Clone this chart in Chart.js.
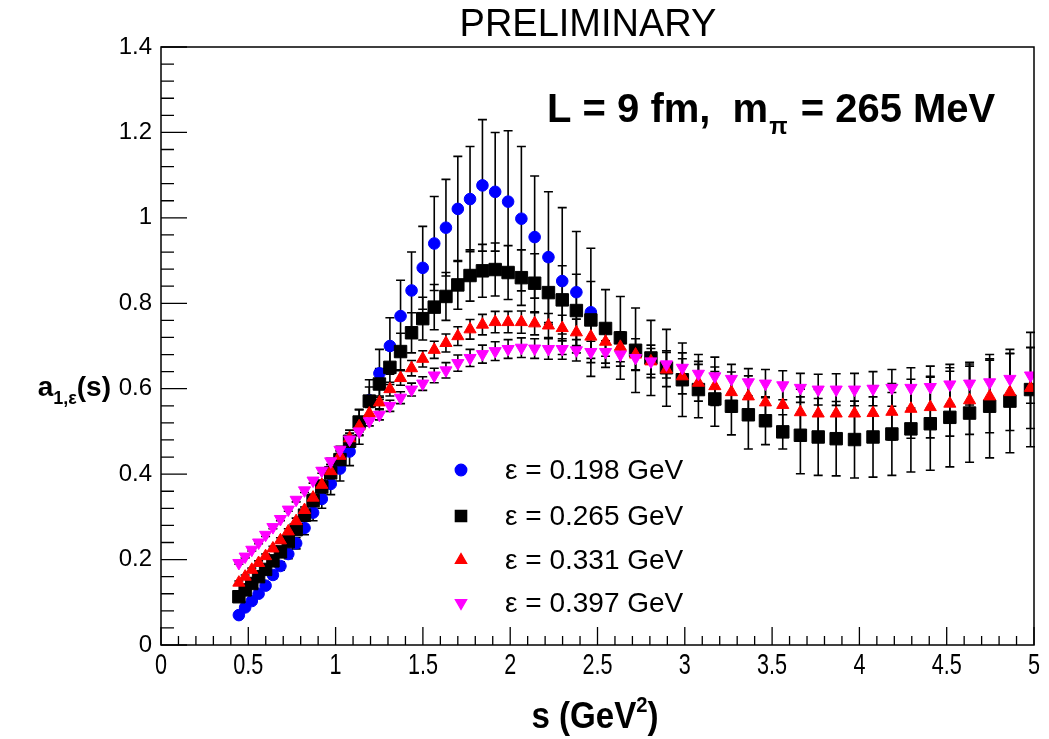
<!DOCTYPE html>
<html>
<head>
<meta charset="utf-8">
<script src="https://cdn.jsdelivr.net/npm/chart.js@4.4.1/dist/chart.umd.min.js"></script>
<style>
  html, body { margin: 0; padding: 0; background: #fff; }
  #wrap { width: 1049px; height: 739px; }
</style>
</head>
<body>
<div id="wrap"><canvas id="grafico" width="1049" height="739"></canvas></div>
<script>
// pontos em s (GeV^2), comuns a todas as séries
const valoresS = [
  0.446, 0.482, 0.520, 0.559, 0.599, 0.641, 0.684, 0.729, 0.774, 0.822,
  0.871, 0.921, 0.972, 1.025, 1.080, 1.135, 1.193, 1.251, 1.311, 1.372,
  1.435, 1.499, 1.565, 1.632, 1.700, 1.770, 1.841, 1.914, 1.988, 2.064,
  2.140, 2.219, 2.298, 2.379, 2.462, 2.546, 2.631, 2.718, 2.806, 2.895,
  2.986, 3.078, 3.172, 3.267, 3.364, 3.462, 3.561, 3.662, 3.764, 3.867,
  3.972, 4.078, 4.186, 4.295, 4.406, 4.518, 4.631, 4.746, 4.862, 4.980
];

// eps = 0.198 GeV (só até s ~ 2.46)
const a198 = [
  0.070, 0.088, 0.103, 0.120, 0.139, 0.164, 0.185, 0.213, 0.238, 0.274,
  0.310, 0.342, 0.377, 0.413, 0.453, 0.510, 0.573, 0.636, 0.700, 0.770,
  0.830, 0.883, 0.940, 0.977, 1.021, 1.044, 1.076, 1.061, 1.038, 0.998,
  0.955, 0.908, 0.852, 0.826, 0.779
];
const erro198 = [
  0.006, 0.006, 0.007, 0.007, 0.008, 0.009, 0.010, 0.011, 0.013, 0.016,
  0.019, 0.022, 0.025, 0.029, 0.033, 0.040, 0.048, 0.056, 0.066, 0.084,
  0.090, 0.097, 0.110, 0.113, 0.123, 0.123, 0.154, 0.139, 0.166, 0.169,
  0.143, 0.153, 0.172, 0.142, 0.150
];

// eps = 0.265 GeV
const a265 = [
  0.113, 0.129, 0.144, 0.160, 0.177, 0.197, 0.218, 0.242, 0.270, 0.304,
  0.338, 0.370, 0.403, 0.434, 0.477, 0.522, 0.571, 0.611, 0.650, 0.687,
  0.731, 0.764, 0.791, 0.816, 0.843, 0.865, 0.876, 0.879, 0.872, 0.860,
  0.847, 0.825, 0.808, 0.783, 0.761, 0.741, 0.719, 0.690, 0.672, 0.649,
  0.621, 0.598, 0.576, 0.559, 0.539, 0.525, 0.499, 0.491, 0.487, 0.483,
  0.481, 0.487, 0.494, 0.506, 0.518, 0.533, 0.543, 0.559, 0.571, 0.598
];
const erro265 = [
  0.005, 0.005, 0.006, 0.006, 0.007, 0.007, 0.008, 0.009, 0.010, 0.012,
  0.014, 0.016, 0.019, 0.022, 0.026, 0.030, 0.033, 0.036, 0.040, 0.043,
  0.047, 0.050, 0.053, 0.056, 0.057, 0.060, 0.062, 0.062, 0.063, 0.065,
  0.069, 0.074, 0.080, 0.085, 0.090, 0.091, 0.097, 0.099, 0.088, 0.090,
  0.086, 0.066, 0.064, 0.067, 0.080, 0.056, 0.040, 0.090, 0.090, 0.087,
  0.090, 0.094, 0.097, 0.101, 0.109, 0.116, 0.115, 0.121, 0.121, 0.134
];

// eps = 0.331 GeV
const a331 = [
  0.146, 0.160, 0.176, 0.192, 0.208, 0.226, 0.245, 0.266, 0.290, 0.316,
  0.345, 0.375, 0.407, 0.443, 0.484, 0.512, 0.542, 0.568, 0.599, 0.625,
  0.648, 0.670, 0.691, 0.707, 0.723, 0.739, 0.750, 0.756, 0.756, 0.756,
  0.753, 0.748, 0.742, 0.732, 0.722, 0.710, 0.698, 0.680, 0.664, 0.645,
  0.629, 0.614, 0.606, 0.592, 0.582, 0.568, 0.562, 0.545, 0.542, 0.542,
  0.542, 0.543, 0.546, 0.553, 0.557, 0.565, 0.573, 0.582, 0.592, 0.602
];
const erro331 = [
  0.004, 0.004, 0.004, 0.005, 0.005, 0.005, 0.006, 0.006, 0.007, 0.007,
  0.008, 0.009, 0.010, 0.011, 0.012, 0.013, 0.014, 0.015, 0.016, 0.017,
  0.018, 0.019, 0.020, 0.021, 0.022, 0.023, 0.024, 0.025, 0.025, 0.026,
  0.027, 0.028, 0.030, 0.031, 0.032, 0.034, 0.035, 0.037, 0.038, 0.040,
  0.041, 0.043, 0.045, 0.047, 0.048, 0.050, 0.052, 0.054, 0.056, 0.058,
  0.060, 0.063, 0.066, 0.069, 0.072, 0.076, 0.080, 0.085, 0.090, 0.095
];

// eps = 0.397 GeV
const a397 = [
  0.192, 0.207, 0.223, 0.240, 0.258, 0.276, 0.295, 0.317, 0.340, 0.362,
  0.385, 0.408, 0.430, 0.457, 0.481, 0.500, 0.524, 0.539, 0.560, 0.579,
  0.598, 0.612, 0.631, 0.643, 0.660, 0.672, 0.681, 0.688, 0.693, 0.696,
  0.694, 0.693, 0.693, 0.690, 0.686, 0.686, 0.680, 0.672, 0.664, 0.657,
  0.649, 0.635, 0.629, 0.623, 0.615, 0.612, 0.608, 0.602, 0.598, 0.598,
  0.598, 0.600, 0.602, 0.602, 0.604, 0.610, 0.612, 0.615, 0.623, 0.631
];
const erro397 = [
  0.003, 0.003, 0.003, 0.003, 0.004, 0.004, 0.004, 0.004, 0.005, 0.005,
  0.006, 0.006, 0.007, 0.008, 0.009, 0.010, 0.011, 0.012, 0.013, 0.014,
  0.015, 0.016, 0.017, 0.018, 0.019, 0.020, 0.021, 0.022, 0.022, 0.023,
  0.023, 0.024, 0.024, 0.025, 0.025, 0.026, 0.027, 0.028, 0.030, 0.032,
  0.035, 0.045, 0.045, 0.034, 0.032, 0.033, 0.034, 0.034, 0.036, 0.037,
  0.038, 0.040, 0.043, 0.047, 0.049, 0.047, 0.050, 0.055, 0.060, 0.065
];

const rotulosLegenda = ['\u03b5 = 0.198 GeV', '\u03b5 = 0.265 GeV', '\u03b5 = 0.331 GeV', '\u03b5 = 0.397 GeV'];

const FONTE = '"Liberation Sans", Arial, Helvetica, sans-serif';

// Junta s e valores em pontos {x, y, e}
function montarPontos(valores, erros) {
    return valores.map((v, i) => ({ x: valoresS[i], y: v, e: erros[i] }));
}

function serie(label, valores, erros, cor, estilo, raio, rotacao, ordem) {
    return {
        label: label,
        data: montarPontos(valores, erros),
        backgroundColor: cor,
        borderColor: cor,
        pointStyle: estilo,
        pointRadius: raio,
        pointHoverRadius: raio,
        pointRotation: rotacao,
        pointBorderWidth: 1,
        showLine: false,
        order: ordem
    };
}

const datasets = [
    serie(rotulosLegenda[0], a198, erro198, '#0000ff', 'circle', 5.8, 0, 4),
    serie(rotulosLegenda[1], a265, erro265, '#000000', 'rect', 8.8, 0, 3),
    serie(rotulosLegenda[2], a331, erro331, '#ff0000', 'triangle', 7, 0, 2),
    serie(rotulosLegenda[3], a397, erro397, '#ff00ff', 'triangle', 7, 180, 1)
];

// Escreve texto com partes em subscrito/sobrescrito, devolve a largura
function textoComposto(ctx, partes, x, y, medirApenas) {
    let largura = 0;
    partes.forEach(p => {
        ctx.font = p.font;
        if (!medirApenas) ctx.fillText(p.t, x + largura, y + (p.dy || 0));
        largura += ctx.measureText(p.t).width + (p.gap || 0);
    });
    return largura;
}

// Texto estreitado na horizontal (fonte condensada do eixo x)
function textoEstreito(ctx, texto, x, y, escala) {
    ctx.save();
    ctx.translate(x, y);
    ctx.scale(escala, 1);
    ctx.fillText(texto, 0, 0);
    ctx.restore();
}

const formatarTick = v => String(+Number(v).toFixed(2));

// Barras de erro, moldura estilo ROOT, textos e legenda
const pluginRoot = {
    id: 'pluginRoot',
    beforeDatasetsDraw(chart) {
        const ctx = chart.ctx;
        const xs = chart.scales.x, ys = chart.scales.y;
        ctx.save();
        ctx.strokeStyle = '#000';
        ctx.lineWidth = 1.6;
        chart.data.datasets.forEach(ds => {
            ds.data.forEach(p => {
                const px = xs.getPixelForValue(p.x);
                const yTop = ys.getPixelForValue(p.y + p.e);
                const yBot = ys.getPixelForValue(p.y - p.e);
                ctx.beginPath();
                ctx.moveTo(px, yTop); ctx.lineTo(px, yBot);
                ctx.moveTo(px - 4.5, yTop); ctx.lineTo(px + 4.5, yTop);
                ctx.moveTo(px - 4.5, yBot); ctx.lineTo(px + 4.5, yBot);
                ctx.stroke();
            });
        });
        ctx.restore();
    },
    afterDatasetsDraw(chart) {
        const ctx = chart.ctx;
        const area = chart.chartArea;
        const xs = chart.scales.x, ys = chart.scales.y;
        ctx.save();

        // moldura
        ctx.strokeStyle = '#000';
        ctx.lineWidth = 1.5;
        ctx.strokeRect(area.left, area.top, area.right - area.left, area.bottom - area.top);

        // marcas dos eixos, para dentro
        ctx.lineWidth = 1.3;
        ctx.beginPath();
        for (let k = 0; k <= 50; k++) {
            const px = xs.getPixelForValue(k / 10);
            const comp = (k % 5 === 0) ? 18 : 9;
            ctx.moveTo(px, area.bottom); ctx.lineTo(px, area.bottom - comp);
        }
        for (let k = 0; k <= 35; k++) {
            const py = ys.getPixelForValue(k * 0.04);
            const comp = (k % 5 === 0) ? 26 : 13;
            ctx.moveTo(area.left, py); ctx.lineTo(area.left + comp, py);
        }
        ctx.stroke();

        ctx.fillStyle = '#000';

        // rótulos do eixo x, a partir dos ticks da escala
        ctx.font = '30px ' + FONTE;
        ctx.textBaseline = 'top';
        xs.ticks.forEach(t => {
            const txt = formatarTick(t.value);
            const w = ctx.measureText(txt).width * 0.72;
            textoEstreito(ctx, txt, xs.getPixelForValue(t.value) - w / 2, area.bottom + 6, 0.72);
        });

        ctx.textBaseline = 'alphabetic';

        // título
        ctx.font = '38px ' + FONTE;
        ctx.textAlign = 'center';
        ctx.fillText('PRELIMINARY', 588, 36);
        ctx.textAlign = 'left';

        // L = 9 fm, m_pi = 265 MeV
        textoComposto(ctx, [
            { t: 'L = 9 fm,  m', font: 'bold 40px ' + FONTE, gap: 1 },
            { t: '\u03c0', font: 'bold 24px ' + FONTE, dy: 12, gap: 2 },
            { t: ' = 265 MeV', font: 'bold 40px ' + FONTE }
        ], 547, 122);

        // título do eixo y: a_{1,eps}(s)
        const partesY = [
            { t: 'a', font: 'bold 28px ' + FONTE },
            { t: '1,\u03b5', font: 'bold 18px ' + FONTE, dy: 8 },
            { t: '(s)', font: 'bold 28px ' + FONTE }
        ];
        const wY = textoComposto(ctx, partesY, 0, 0, true);
        textoComposto(ctx, partesY, 111 - wY, 396);

        // título do eixo x: s (GeV^2), também estreitado
        const escX = 0.92;
        const partesX = [
            { t: 's (GeV', font: 'bold 36px ' + FONTE },
            { t: '2', font: 'bold 22px ' + FONTE, dy: -16 },
            { t: ')', font: 'bold 36px ' + FONTE }
        ];
        const wX = textoComposto(ctx, partesX, 0, 0, true);
        ctx.save();
        ctx.translate(595 - wX * escX / 2, 728);
        ctx.scale(escX, 1);
        textoComposto(ctx, partesX, 0, 0);
        ctx.restore();

        // legenda
        const linhas = [470, 516, 560, 603];
        ctx.textBaseline = 'middle';
        chart.data.datasets.forEach((ds, i) => {
            const opts = {
                pointStyle: ds.pointStyle,
                rotation: ds.pointRotation,
                radius: ds.pointStyle === 'rect' ? 8 : (ds.pointStyle === 'circle' ? 5.8 : 6.5),
                borderWidth: 1
            };
            ctx.fillStyle = ds.backgroundColor;
            ctx.strokeStyle = ds.borderColor;
            Chart.helpers.drawPoint(ctx, opts, 461, linhas[i]);
            ctx.fillStyle = '#000';
            ctx.font = '28px ' + FONTE;
            ctx.fillText(ds.label, 505, linhas[i] + 1);
        });

        ctx.restore();
    }
};

new Chart(document.getElementById('grafico').getContext('2d'), {
    type: 'scatter',
    data: { datasets: datasets },
    options: {
        responsive: false,
        animation: false,
        layout: { padding: { top: 47, right: 15, left: 0, bottom: 0 } },
        plugins: {
            legend: { display: false },
            tooltip: { enabled: false }
        },
        scales: {
            x: {
                type: 'linear',
                min: 0,
                max: 5,
                grid: { display: false, drawTicks: false },
                border: { display: false },
                ticks: {
                    display: false,
                    stepSize: 0.5,
                    autoSkip: false
                },
                afterFit: s => { s.height = 94; }
            },
            y: {
                type: 'linear',
                min: 0,
                max: 1.4,
                grid: { display: false, drawTicks: false },
                border: { display: false },
                ticks: {
                    stepSize: 0.2,
                    padding: 9,
                    color: '#000',
                    font: { family: FONTE, size: 24 },
                    callback: formatarTick
                },
                afterFit: s => { s.width = 161; }
            }
        }
    },
    plugins: [pluginRoot]
});
</script>
</body>
</html>
